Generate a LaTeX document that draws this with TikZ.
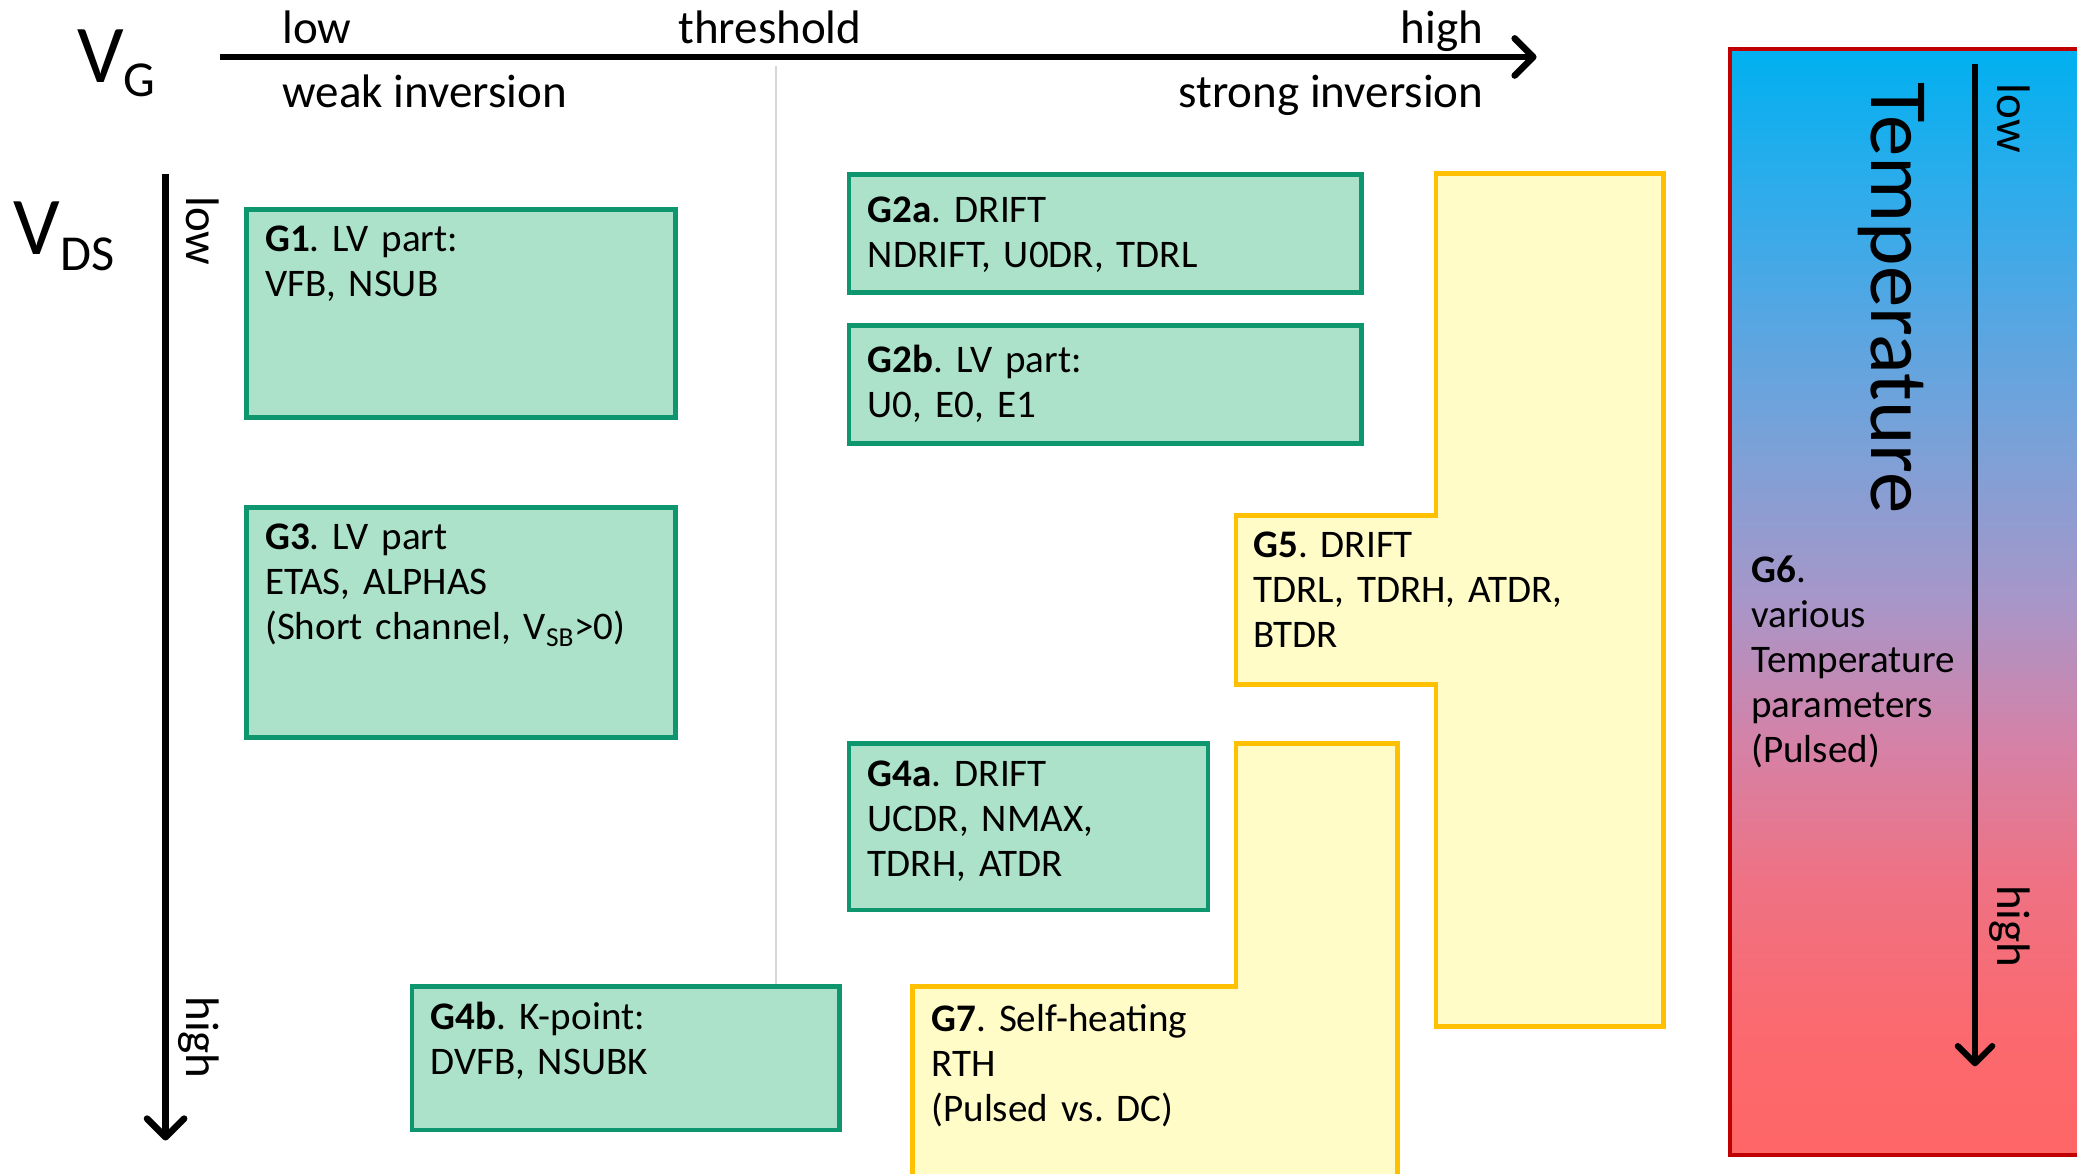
\documentclass[tikz,border=0pt]{standalone}
\usepackage{fontspec}
\setmainfont{Carlito}
\usetikzlibrary{arrows.meta}

\definecolor{boxgreen}{RGB}{172,226,202}
\definecolor{edgegreen}{RGB}{14,150,110}
\definecolor{boxyellow}{RGB}{255,252,200}
\definecolor{edgeyellow}{RGB}{255,192,0}
\definecolor{edgered}{RGB}{192,0,0}
\definecolor{guide}{RGB}{215,215,215}

% temperature scale colours, cold to hot
\definecolor{tempA}{RGB}{0,176,240}
\definecolor{tempB}{RGB}{45,172,235}
\definecolor{tempC}{RGB}{88,166,226}
\definecolor{tempD}{RGB}{128,160,214}
\definecolor{tempE}{RGB}{168,150,200}
\definecolor{tempF}{RGB}{212,130,168}
\definecolor{tempG}{RGB}{238,114,132}
\definecolor{tempH}{RGB}{250,106,112}
\definecolor{tempI}{RGB}{255,102,102}
\pgfdeclareverticalshading{tempgrad}{100bp}{
  color(0bp)=(tempI); color(25bp)=(tempI); color(31.25bp)=(tempH);
  color(37.5bp)=(tempG); color(43.75bp)=(tempF); color(50bp)=(tempE);
  color(56.25bp)=(tempD); color(62.5bp)=(tempC); color(68.75bp)=(tempB);
  color(75bp)=(tempA); color(100bp)=(tempA)}

\begin{document}
\frenchspacing
\begin{tikzpicture}[x=1pt,y=-1pt,
  greenbox/.style={draw=edgegreen, fill=boxgreen, line width=3.6pt, inner sep=0pt},
  yellowarea/.style={draw=edgeyellow, fill=boxyellow, line width=3.6pt, line join=miter},
  boxtext/.style={anchor=base west, inner sep=0pt, text width=420pt, align=left,
    font=\fontsize{29.5}{34}\selectfont},
  axislabel/.style={inner sep=0pt, font=\fontsize{35.5}{40}\selectfont},
  axisarrow/.style={line width=5pt, -{Straight Barb[length=14pt,width=28pt,line width=5pt,round]}},
]
\useasboundingbox (0,0) rectangle (1568,886);
\clip (0,0) rectangle (1568,886);

% threshold guide line
\coordinate (guide-top) at (586,50);
\coordinate (guide-bot) at (586,745);
\draw[guide, line width=1.5pt] (guide-top) -- (guide-bot);

% gate voltage axis
\node[inner sep=0pt, anchor=base west] (vg) at (58,62)
  {\fontsize{62}{62}\selectfont V\raisebox{-11pt}{\fontsize{38}{38}\selectfont G}};
\coordinate (vg-start) at (166,43);
\coordinate (vg-end) at (1160,43);
\draw[axisarrow] (vg-start) -- (vg-end);
\node[axislabel, anchor=base west] (vg-low) at (213,33) {low};
\node[axislabel, anchor=base west] (vg-thr) at (512,33) {threshold};
\node[axislabel, anchor=base east] (vg-high) at (1120,33) {high};
\node[axislabel, anchor=base west] (vg-weak) at (213,81) {weak inversion};
\node[axislabel, anchor=base east] (vg-strong) at (1120,81) {strong inversion};

% drain voltage axis
\node[inner sep=0pt, anchor=base west] (vds) at (10,192)
  {\fontsize{62}{62}\selectfont V\raisebox{-12pt}{\fontsize{38}{38}\selectfont DS}};
\coordinate (vds-start) at (125,131);
\coordinate (vds-end) at (125,861);
\draw[axisarrow] (vds-start) -- (vds-end);
\node[axislabel, rotate=-90, anchor=base west] (vds-low) at (141,148) {low};
\node[axislabel, rotate=-90, anchor=base west] (vds-high) at (141,752) {high};

% parameter groups (green)
\node[greenbox, minimum width=324pt, minimum height=157pt] (g1) at (348,236.5) {};
\node[greenbox, minimum width=387pt, minimum height=89pt] (g2a) at (834.5,176.5) {};
\node[greenbox, minimum width=387pt, minimum height=89pt] (g2b) at (834.5,290.5) {};
\node[greenbox, minimum width=324pt, minimum height=174pt] (g3) at (348,470) {};
\node[greenbox, minimum width=271pt, minimum height=126pt] (g4a) at (776.5,624) {};
\node[greenbox, minimum width=323pt, minimum height=108pt] (g4b) at (472.5,799) {};

\node[boxtext] (t1) at (200,190) {\textbf{G1}. LV part:\\VFB, NSUB};
\node[boxtext] (t2a) at (655,168) {\textbf{G2a}. DRIFT\\NDRIFT, U0DR, TDRL};
\node[boxtext] (t2b) at (655,281) {\textbf{G2b}. LV part:\\U0, E0, E1};
\node[boxtext] (t3) at (200,415) {\textbf{G3}. LV part\\ETAS, ALPHAS\\(Short channel, V\textsubscript{SB}>0)};
\node[boxtext] (t4a) at (655,594) {\textbf{G4a}. DRIFT\\UCDR, NMAX,\\TDRH, ATDR};
\node[boxtext] (t4b) at (325,777) {\textbf{G4b}. K-point:\\DVFB, NSUBK};

% parameter groups (yellow)
\draw[yellowarea] (1084,131) -- (1256,131) -- (1256,775) -- (1084,775) -- (1084,517)
  -- (933,517) -- (933,389) -- (1084,389) -- cycle;
\draw[yellowarea] (933,561) -- (1055,561) -- (1055,900) -- (689,900) -- (689,745)
  -- (933,745) -- cycle;
\node[boxtext] (t5) at (946,421) {\textbf{G5}. DRIFT\\TDRL, TDRH, ATDR,\\BTDR};
\node[boxtext] (t7) at (703,779) {\textbf{G7}. Self-heating\\RTH\\(Pulsed vs. DC)};

% temperature column
\node[draw=edgered, line width=3.6pt, shading=tempgrad,
  minimum width=294pt, minimum height=835pt, inner sep=0pt]
  (g6) at (1453,454.5) {};
\node[inner sep=0pt, rotate=-90, anchor=base west, font=\fontsize{62.5}{66}\selectfont]
  (temp) at (1413,62) {Temperature};
\coordinate (t-start) at (1491,48);
\coordinate (t-end) at (1491,805);
\draw[line width=4.6pt, -{Straight Barb[length=13pt,width=26pt,line width=4.6pt,round]}] (t-start) -- (t-end);
\node[axislabel, rotate=-90, anchor=base west] (t-low) at (1508,63) {low};
\node[axislabel, rotate=-90, anchor=base west] (t-high) at (1508,668) {high};
\node[boxtext] (t6) at (1322,440) {\textbf{G6}.\\various\\Temperature\\parameters\\(Pulsed)};
\end{tikzpicture}
\end{document}
